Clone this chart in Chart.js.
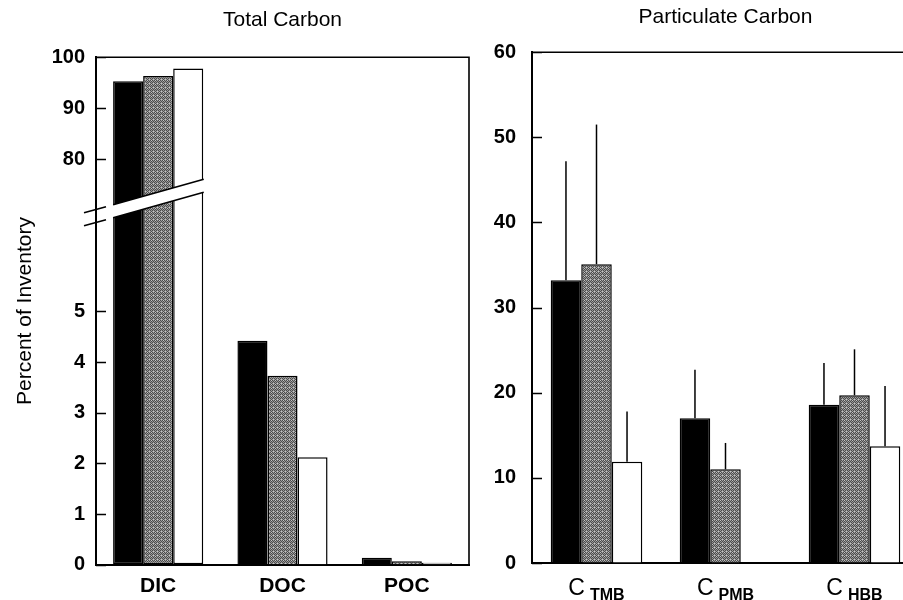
<!DOCTYPE html>
<html>
<head>
<meta charset="utf-8">
<title>Total and Particulate Carbon</title>
<script src="https://cdn.jsdelivr.net/npm/chart.js@4.4.1/dist/chart.umd.min.js"></script>
<style>
    html, body { margin: 0; padding: 0; background: #fff; overflow: hidden; }
    body { width: 903px; height: 600px; position: relative; }
    canvas { position: absolute; top: 0; }
    #totalChart { left: 0; }
    #partChart { left: 461px; }
</style>
</head>
<body>
<canvas id="totalChart" width="473" height="608"></canvas>
<canvas id="partChart" width="458" height="600"></canvas>
<script>
// Left panel: percent of inventory, broken axis
const TOTAL_CATEGORIES = ['DIC', 'DOC', 'POC'];
const TOTAL_BLACK = [95.3, 4.42, 0.14];
const TOTAL_SHADED = [96.3, 3.73, 0.07];
const TOTAL_OPEN = [97.8, 2.12, 0.04];
const UPPER_TICKS = [80, 90, 100];
const LOWER_TICKS = [0, 1, 2, 3, 4, 5];
const UPPER_MIN = 70;
const LOWER_MAX = 7;

// Right panel: particulate carbon with upward error bars
const PART_CATEGORIES = ['C_TMB', 'C_PMB', 'C_HBB'];
const PART_BLACK = [33.2, 17.0, 18.6];
const PART_SHADED = [35.1, 11.0, 19.7];
const PART_OPEN = [11.9, null, 13.7];
const PART_BLACK_ERR = [14.0, 5.7, 4.9];
const PART_SHADED_ERR = [16.4, 3.1, 5.4];
const PART_OPEN_ERR = [5.9, null, 7.1];
const PART_TICKS = [0, 10, 20, 30, 40, 50, 60];

const FONT = '"Liberation Sans", Arial, Helvetica, sans-serif';

document.addEventListener('DOMContentLoaded', function() {
    Chart.defaults.font.family = FONT;
    Chart.defaults.color = '#000';

    // stippled grey fill for the middle series
    function stipple() {
        const c = document.createElement('canvas');
        c.width = 4; c.height = 4;
        const g = c.getContext('2d');
        g.fillStyle = '#999';
        g.fillRect(0, 0, 4, 4);
        g.fillStyle = '#4c4c4c';
        [[0, 0], [2, 0], [1, 1], [3, 1], [0, 2], [2, 2], [3, 3]].forEach(p => g.fillRect(p[0], p[1], 1, 1));
        g.fillStyle = '#c4c4c4';
        [[1, 3], [3, 0]].forEach(p => g.fillRect(p[0], p[1], 1, 1));
        return g.createPattern(c, 'repeat');
    }
    const shaded = stipple();

    const series = [
        { name: 'black', total: TOTAL_BLACK, part: PART_BLACK, err: PART_BLACK_ERR, fill: '#000' },
        { name: 'shaded', total: TOTAL_SHADED, part: PART_SHADED, err: PART_SHADED_ERR, fill: shaded },
        { name: 'open', total: TOTAL_OPEN, part: PART_OPEN, err: PART_OPEN_ERR, fill: '#fff' }
    ];

    // box lines on top and right, plus inward tick marks on the y axes
    const framePlugin = {
        id: 'frame',
        afterDraw(chart) {
            const a = chart.chartArea, ctx = chart.ctx;
            ctx.save();
            ctx.strokeStyle = '#000';
            ctx.lineWidth = 1.6;
            ctx.beginPath();
            ctx.moveTo(a.left, a.top);
            ctx.lineTo(a.right, a.top);
            ctx.lineTo(a.right, a.bottom);
            Object.values(chart.scales).forEach(sc => {
                if (sc.axis !== 'y') return;
                sc.ticks.forEach(t => {
                    const y = Math.round(sc.getPixelForValue(t.value)) + 0.5;
                    ctx.moveTo(a.left, y);
                    ctx.lineTo(a.left + 10, y);
                });
            });
            ctx.stroke();
            ctx.restore();
        }
    };

    // slanted break across the DIC bars and the axis
    const breakPlugin = {
        id: 'axisBreak',
        afterDatasetsDraw(chart) {
            const ctx = chart.ctx;
            const x0 = chart.chartArea.left;
            const yb = chart.scales.yHigh.bottom;
            const slope = -0.28, half = 6.5;
            const cy = x => yb + 6 + slope * (x - x0);
            let left = Infinity, right = -Infinity;
            chart.data.datasets.forEach((ds, k) => {
                if (ds.yAxisID !== 'yHigh' || ds.data[0] == null) return;
                const bar = chart.getDatasetMeta(k).data[0];
                left = Math.min(left, bar.x - bar.width / 2);
                right = Math.max(right, bar.x + bar.width / 2);
            });
            ctx.save();
            ctx.fillStyle = '#fff';
            ctx.beginPath();
            ctx.moveTo(left - 1, cy(left - 1) - half);
            ctx.lineTo(right + 1, cy(right + 1) - half);
            ctx.lineTo(right + 1, cy(right + 1) + half);
            ctx.lineTo(left - 1, cy(left - 1) + half);
            ctx.closePath();
            ctx.fill();
            ctx.strokeStyle = '#000';
            ctx.lineWidth = 1.6;
            ctx.beginPath();
            [-1, 1].forEach(s => {
                ctx.moveTo(left, cy(left) + s * half);
                ctx.lineTo(right + 0.5, cy(right + 0.5) + s * half);
                ctx.moveTo(x0 - 12, cy(x0 - 12) + s * half);
                ctx.lineTo(x0 + 10, cy(x0 + 10) + s * half);
            });
            ctx.stroke();
            ctx.restore();
        }
    };

    const yTitlePlugin = {
        id: 'yTitle',
        afterDraw(chart) {
            const a = chart.chartArea, ctx = chart.ctx;
            ctx.save();
            ctx.translate(25, (a.top + a.bottom) / 2);
            ctx.rotate(-Math.PI / 2);
            ctx.font = '21px ' + FONT;
            ctx.fillStyle = '#000';
            ctx.textAlign = 'center';
            ctx.textBaseline = 'middle';
            ctx.fillText('Percent of Inventory', 0, 0);
            ctx.restore();
        }
    };

    // upward-only error bars
    const errorPlugin = {
        id: 'errorBars',
        afterDatasetsDraw(chart) {
            const ctx = chart.ctx, ys = chart.scales.y;
            ctx.save();
            ctx.strokeStyle = '#000';
            ctx.lineWidth = 1.5;
            chart.data.datasets.forEach((ds, k) => {
                chart.getDatasetMeta(k).data.forEach((bar, j) => {
                    if (ds.data[j] == null || ds.errors[j] == null) return;
                    ctx.beginPath();
                    ctx.moveTo(bar.x, bar.y);
                    ctx.lineTo(bar.x, ys.getPixelForValue(ds.data[j] + ds.errors[j]));
                    ctx.stroke();
                });
            });
            ctx.restore();
        }
    };

    // category labels with subscripts: C_TMB -> C + subscript TMB
    const subLabelPlugin = {
        id: 'subLabels',
        afterDraw(chart) {
            const ctx = chart.ctx, xs = chart.scales.x;
            ctx.save();
            ctx.fillStyle = '#000';
            ctx.textBaseline = 'alphabetic';
            ctx.textAlign = 'left';
            PART_CATEGORIES.forEach((cat, i) => {
                const parts = cat.split('_');
                const cx = xs.getPixelForTick(i);
                ctx.font = '23px ' + FONT;
                const w1 = ctx.measureText(parts[0]).width;
                ctx.font = 'bold 16px ' + FONT;
                const w2 = ctx.measureText(parts[1]).width;
                const start = cx - (w1 + 5 + w2) / 2;
                ctx.font = '23px ' + FONT;
                ctx.fillText(parts[0], start, 595);
                ctx.font = 'bold 16px ' + FONT;
                ctx.fillText(parts[1], start + w1 + 5, 600);
            });
            ctx.restore();
        }
    };

    const tickFont = { size: 20, weight: 'bold' };

    // Total Carbon
    const lowSets = series.map((s, i) => ({
        label: s.name,
        data: s.total.map(v => Math.min(v, LOWER_MAX)),
        yAxisID: 'yLow',
        stack: 's' + i,
        backgroundColor: s.fill,
        borderColor: '#000',
        borderWidth: 1.5,
        borderSkipped: c => s.total[c.dataIndex] > LOWER_MAX ? 'end' : 'start'
    }));
    const highSets = series.map((s, i) => ({
        label: s.name,
        data: s.total.map(v => v > UPPER_MIN ? v : null),
        yAxisID: 'yHigh',
        stack: 's' + i,
        backgroundColor: s.fill,
        borderColor: '#000',
        borderWidth: 1.5
    }));

    const yAxisBase = {
        type: 'linear',
        position: 'left',
        stack: 'pct',
        afterFit: axis => { axis.width = 96; },
        grid: { drawOnChartArea: false, drawTicks: false },
        border: { color: '#000', width: 2 },
        ticks: { font: tickFont, padding: 11, color: '#000' }
    };

    new Chart(document.getElementById('totalChart'), {
        type: 'bar',
        data: { labels: TOTAL_CATEGORIES, datasets: lowSets.concat(highSets) },
        options: {
            responsive: false,
            animation: false,
            categoryPercentage: 0.725,
            barPercentage: 1,
            layout: { padding: { left: 0, right: 4, top: 0, bottom: 0 } },
            plugins: {
                legend: { display: false },
                tooltip: { enabled: false },
                title: {
                    display: true,
                    text: 'Total Carbon',
                    fullSize: false,
                    font: { size: 21, weight: 'normal' },
                    color: '#000',
                    padding: { top: 8, bottom: 24 }
                }
            },
            scales: {
                x: {
                    grid: { display: false, drawTicks: false },
                    border: { display: true, color: '#000', width: 2 },
                    ticks: { font: { size: 21, weight: 'bold' }, padding: 9, color: '#000' }
                },
                yLow: Object.assign({}, yAxisBase, {
                    stackWeight: 353,
                    min: 0,
                    max: LOWER_MAX,
                    afterBuildTicks: axis => { axis.ticks = LOWER_TICKS.map(value => ({ value })); }
                }),
                yHigh: Object.assign({}, yAxisBase, {
                    stackWeight: 152,
                    min: UPPER_MIN,
                    max: 100,
                    afterBuildTicks: axis => { axis.ticks = UPPER_TICKS.map(value => ({ value })); }
                })
            }
        },
        plugins: [framePlugin, breakPlugin, yTitlePlugin]
    });

    // Particulate Carbon
    new Chart(document.getElementById('partChart'), {
        type: 'bar',
        data: {
            labels: PART_CATEGORIES,
            datasets: series.map(s => ({
                label: s.name,
                data: s.part,
                errors: s.err,
                backgroundColor: s.fill,
                borderColor: '#000',
                borderWidth: 1.5
            }))
        },
        options: {
            responsive: false,
            animation: false,
            categoryPercentage: 0.71,
            barPercentage: 1,
            layout: { padding: { left: 0, right: 0, top: 0, bottom: 37 } },
            plugins: {
                legend: { display: false },
                tooltip: { enabled: false },
                title: {
                    display: true,
                    text: 'Particulate Carbon',
                    fullSize: false,
                    font: { size: 21, weight: 'normal' },
                    color: '#000',
                    padding: { top: 5, bottom: 22 }
                }
            },
            scales: {
                x: {
                    grid: { display: false, drawTicks: false },
                    border: { display: true, color: '#000', width: 2 },
                    ticks: { display: false }
                },
                y: {
                    min: 0,
                    max: 60,
                    afterBuildTicks: axis => { axis.ticks = PART_TICKS.map(value => ({ value })); },
                    afterFit: axis => { axis.width = 71; },
                    grid: { drawOnChartArea: false, drawTicks: false },
                    border: { color: '#000', width: 2 },
                    ticks: { font: tickFont, padding: 16, color: '#000' }
                }
            }
        },
        plugins: [framePlugin, errorPlugin, subLabelPlugin]
    });
});
</script>
</body>
</html>
